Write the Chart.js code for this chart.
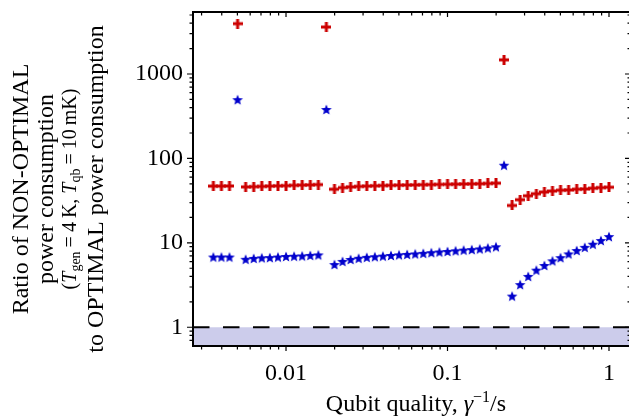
<!DOCTYPE html>
<html><head><meta charset="utf-8">
<script src="https://cdn.jsdelivr.net/npm/chart.js@4.4.0/dist/chart.umd.min.js"></script>
<style>
html,body{margin:0;padding:0;overflow:hidden;background:#fff;width:629px;height:417px}
#wrap{position:relative;width:629px;height:417px;overflow:hidden}
canvas{display:block}
</style></head><body>
<div id="wrap"><canvas id="c" width="629" height="417"></canvas></div>
<script>
// ---- data ----
const qualities = [0.003548, 0.003981, 0.004467, 0.005012, 0.005623, 0.006310, 0.007079, 0.007943, 0.008913, 0.01000,
  0.01122, 0.01259, 0.01413, 0.01585, 0.01778, 0.01995, 0.02239, 0.02512, 0.02818, 0.03162,
  0.03548, 0.03981, 0.04467, 0.05012, 0.05623, 0.06310, 0.07079, 0.07943, 0.08913, 0.1000,
  0.1122, 0.1259, 0.1413, 0.1585, 0.1778, 0.1995, 0.2239, 0.2512, 0.2818, 0.3162,
  0.3548, 0.3981, 0.4467, 0.5012, 0.5623, 0.6310, 0.7079, 0.7943, 0.8913, 1.000];
const ratioPlus = [47.0, 47.0, 47.2, 3950, 46.0, 46.3, 46.6, 47.0, 47.3, 47.6,
  48.0, 48.3, 48.6, 49.0, 3600, 43.2, 45.1, 46.0, 46.6, 47.0,
  47.4, 47.7, 48.0, 48.2, 48.4, 48.6, 48.8, 49.0, 49.2, 49.4,
  49.6, 49.8, 50.0, 50.2, 50.5, 50.9, 1470, 27.7, 32.4, 36.1,
  38.2, 40.0, 41.1, 42.0, 42.3, 43.2, 43.5, 44.4, 45.1, 45.6];
const ratioStar = [6.7, 6.7, 6.7, 490, 6.3, 6.45, 6.55, 6.6, 6.7, 6.8,
  6.85, 6.9, 7.0, 7.1, 375, 5.46, 5.95, 6.27, 6.48, 6.64,
  6.76, 6.87, 6.99, 7.11, 7.2, 7.3, 7.41, 7.55, 7.69, 7.8,
  7.94, 8.09, 8.21, 8.36, 8.58, 8.86, 82, 2.31, 3.16, 3.95,
  4.68, 5.32, 6.04, 6.59, 7.3, 8.0, 8.73, 9.5, 10.5, 11.7];
const xTickValues = [0.01, 0.1, 1];
const xTickLabels = ['0.01', '0.1', '1'];
const yTickValues = [1, 10, 100, 1000];
const yTickLabels = ['1', '10', '100', '1000'];
const refLevel = 1;
const xRange = [0.002655, 1.330];
const yRange = [0.618, 5424];

// ---- styles ----
const SERIF = '"Liberation Serif", "Times New Roman", serif';
const RED = 'rgb(204,0,0)';
const BLUE = 'rgb(0,0,204)';

function makePlus(color, size, thick) {
  const c = document.createElement('canvas');
  c.width = size; c.height = size;
  const g = c.getContext('2d');
  g.fillStyle = color;
  const m = (size - thick) / 2;
  g.fillRect(m, 0, thick, size);
  g.fillRect(0, m, size, thick);
  return c;
}
function makeStar(color, R, r) {
  const s = Math.ceil(2 * R) + 2;
  const c = document.createElement('canvas');
  c.width = s; c.height = s;
  const g = c.getContext('2d');
  g.fillStyle = color;
  g.beginPath();
  for (let i = 0; i < 10; i++) {
    const a = -Math.PI / 2 + i * Math.PI / 5;
    const rr = i % 2 === 0 ? R : r;
    const px = s / 2 + rr * Math.cos(a), py = s / 2 + rr * Math.sin(a);
    if (i === 0) g.moveTo(px, py); else g.lineTo(px, py);
  }
  g.closePath();
  g.fill();
  return c;
}
const plusImg = makePlus(RED, 10, 3);
const starImg = makeStar(BLUE, 5.6, 2.4);

function minorValues(min, max) {
  const out = [];
  for (let e = -4; e <= 4; e++) {
    for (let k = 1; k <= 9; k++) {
      const v = k * Math.pow(10, e);
      if (v >= min && v <= max) out.push({v, major: k === 1});
    }
  }
  return out;
}

const decorPlugin = {
  id: 'decor',
  beforeDatasetsDraw(chart) {
    const {ctx, chartArea: a, scales} = chart;
    const y1 = scales.y.getPixelForValue(refLevel);
    ctx.save();
    ctx.fillStyle = 'rgb(204,204,235)';
    ctx.fillRect(a.left, y1, a.right - a.left, a.bottom - y1);
    ctx.strokeStyle = '#000';
    ctx.lineWidth = 2;
    ctx.setLineDash([16.5, 13.5]);
    ctx.beginPath();
    ctx.moveTo(a.left, y1);
    ctx.lineTo(a.right, y1);
    ctx.stroke();
    ctx.restore();
  },
  afterDraw(chart) {
    const {ctx, chartArea: a, scales} = chart;
    const rightEdge = a.right + 3; // frame continues just past the visible canvas
    ctx.save();
    ctx.strokeStyle = '#000';
    ctx.lineWidth = 1.2;
    for (const t of minorValues(xRange[0], xRange[1])) {
      const px = scales.x.getPixelForValue(t.v);
      const L = t.major ? 5 : 3.5;
      ctx.beginPath();
      ctx.moveTo(px, a.bottom); ctx.lineTo(px, a.bottom + L);
      ctx.moveTo(px, a.top); ctx.lineTo(px, a.top + L);
      ctx.stroke();
    }
    for (const t of minorValues(yRange[0], yRange[1])) {
      const py = scales.y.getPixelForValue(t.v);
      const L = t.major ? 6 : 3.5;
      ctx.beginPath();
      ctx.moveTo(a.left, py); ctx.lineTo(a.left - L, py);
      ctx.moveTo(rightEdge, py); ctx.lineTo(rightEdge - L - 1, py);
      ctx.stroke();
    }
    ctx.lineWidth = 2;
    ctx.beginPath();
    ctx.moveTo(rightEdge, a.top); ctx.lineTo(a.left, a.top);
    ctx.lineTo(a.left, a.bottom); ctx.lineTo(rightEdge, a.bottom);
    ctx.stroke();
    ctx.restore();

    // y title
    ctx.save();
    ctx.fillStyle = '#000';
    const cy = 189;
    const simple = [[22, 'Ratio of NON-OPTIMAL'], [47, 'power consumption'], [97, 'to OPTIMAL power consumption']];
    for (const [x, s] of simple) {
      ctx.save();
      ctx.translate(x, cy);
      ctx.rotate(-Math.PI / 2);
      ctx.font = '24px ' + SERIF;
      ctx.textAlign = 'center';
      ctx.textBaseline = 'middle';
      ctx.fillText(s, 0, 0);
      ctx.restore();
    }
    const segs = [
      {t: '(', f: '20px ' + SERIF, dy: 0},
      {t: 'T', f: 'italic 20px ' + SERIF, dy: 0},
      {t: 'gen', f: '14px ' + SERIF, dy: 4},
      {t: '\u2009=\u20094\u2009K, ', f: '20px ' + SERIF, dy: 0},
      {t: 'T', f: 'italic 20px ' + SERIF, dy: 0},
      {t: 'qb', f: '14px ' + SERIF, dy: 4},
      {t: '\u2009=\u200910\u2009mK)', f: '20px ' + SERIF, dy: 0}
    ];
    let tot = 0;
    for (const s of segs) { ctx.font = s.f; s.w = ctx.measureText(s.t).width; tot += s.w; }
    ctx.save();
    ctx.translate(69, cy);
    ctx.rotate(-Math.PI / 2);
    ctx.textAlign = 'left';
    ctx.textBaseline = 'alphabetic';
    let cx = -tot / 2;
    for (const s of segs) {
      ctx.font = s.f;
      ctx.fillText(s.t, cx, 7 + s.dy);
      cx += s.w;
    }
    ctx.restore();

    // x title
    const xs = [
      {t: 'Qubit quality, ', f: '24px ' + SERIF, dy: 0},
      {t: '\u03b3', f: 'italic 24px ' + SERIF, dy: 0},
      {t: '\u22121', f: '16px ' + SERIF, dy: -9},
      {t: '/s', f: '24px ' + SERIF, dy: 0}
    ];
    tot = 0;
    for (const s of xs) { ctx.font = s.f; s.w = ctx.measureText(s.t).width; tot += s.w; }
    cx = 416 - tot / 2;
    ctx.textAlign = 'left';
    ctx.textBaseline = 'alphabetic';
    for (const s of xs) {
      ctx.font = s.f;
      ctx.fillText(s.t, cx, 411 + s.dy);
      cx += s.w;
    }
    ctx.restore();
  }
};

const tickFont = {family: SERIF, size: 24};
new Chart(document.getElementById('c'), {
  type: 'scatter',
  data: {
    datasets: [
      {label: 'plus', data: qualities.map((x, i) => ({x, y: ratioPlus[i]})), pointStyle: plusImg, pointRadius: 5},
      {label: 'star', data: qualities.map((x, i) => ({x, y: ratioStar[i]})), pointStyle: starImg, pointRadius: 5}
    ]
  },
  options: {
    responsive: false,
    animation: false,
    events: [],
    layout: {autoPadding: false, padding: {top: 12, right: 0, left: 0, bottom: 0}},
    plugins: {legend: {display: false}, tooltip: {enabled: false}},
    scales: {
      x: {
        type: 'logarithmic', min: xRange[0], max: xRange[1],
        grid: {display: false, drawTicks: false}, border: {display: false},
        afterBuildTicks(s) { s.ticks = xTickValues.map(v => ({value: v})); },
        afterFit(s) { s.height = 71; s.paddingLeft = 0; s.paddingRight = 0; s.paddingTop = 0; s.paddingBottom = 0; },
        ticks: {font: tickFont, color: '#000', padding: 13, autoSkip: false, maxRotation: 0,
          callback: (v) => { const i = xTickValues.indexOf(v); return i >= 0 ? xTickLabels[i] : ''; }}
      },
      y: {
        type: 'logarithmic', min: yRange[0], max: yRange[1],
        grid: {display: false, drawTicks: false}, border: {display: false},
        afterBuildTicks(s) { s.ticks = yTickValues.map(v => ({value: v})); },
        afterFit(s) { s.width = 193; s.paddingLeft = 0; s.paddingRight = 0; s.paddingTop = 0; s.paddingBottom = 0; },
        ticks: {font: tickFont, color: '#000', padding: 10, autoSkip: false,
          callback: (v) => { const i = yTickValues.indexOf(v); return i >= 0 ? yTickLabels[i] : ''; }}
      }
    }
  },
  plugins: [decorPlugin]
});
</script>
</body></html>
